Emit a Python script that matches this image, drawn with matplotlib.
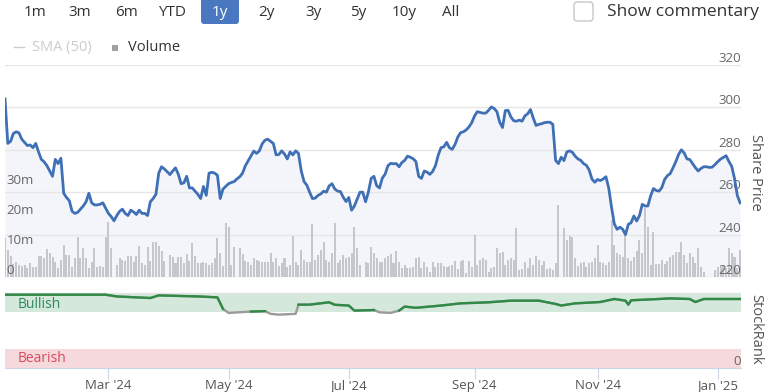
import numpy as np
import pandas as pd
import matplotlib.pyplot as plt
from matplotlib.patches import FancyBboxPatch, Rectangle

plt.rcParams['font.family'] = ['Open Sans', 'DejaVu Sans']

# closing price, one value per business day from 10 Jan 2024
price = [
    304, 283, 284, 287.7, 288.5, 288, 285, 283.5, 282, 282.3,
    281, 283, 279, 275.5, 274.3, 272.5, 270, 267.5, 275.5, 273.5,
    276, 259.5, 257.5, 256, 251, 250, 250.5, 252, 253.5, 255.5,
    259.5, 255, 254, 254, 254.3, 255, 252.5, 250, 248.5, 246.5,
    249, 251, 252, 250, 249, 251.5, 250.7, 249.5, 251.5, 250,
    250, 249, 255.5, 257, 259, 269, 272, 271, 269.7, 268.3,
    270, 271.5, 268.5, 264, 264.4, 267.5, 262, 262, 260.5, 259,
    257, 262.7, 258.5, 269, 269.4, 269, 268, 257, 261.5, 262.8,
    264, 264.6, 265, 266.3, 267.3, 269, 272.5, 274.8, 277, 279.4,
    278.3, 279.5, 282.8, 284.5, 285, 284, 283, 277.6, 277.8, 279.5,
    278, 275.7, 279, 277.6, 279.5, 278.3, 270, 265, 263.3, 260,
    257, 257.2, 258.5, 259.2, 260.5, 260, 263, 264, 261.5, 260.5,
    260.3, 257.7, 255.6, 257.5, 251.5, 253.5, 256.8, 260, 260, 255.5,
    260, 266.5, 267.5, 263, 262, 266.7, 268.5, 272.5, 273.6, 273.4,
    273.5, 272, 274, 275, 277, 276.5, 275.8, 274.5, 267.5, 266.5,
    270, 269.5, 268.4, 269.8, 272.5, 277.5, 281, 281.4, 283.5, 281,
    280.2, 282.5, 286, 288.1, 288.5, 289.4, 290.8, 292.8, 296, 298,
    297.6, 297.3, 297.3, 298.6, 300.2, 299.5, 298, 293, 290.5, 298.5,
    298.6, 295.5, 293.7, 293.5, 294, 293.5, 296, 297, 299, 295,
    291.5, 292, 292.3, 292.8, 293, 293, 292, 275, 273.5, 276.5,
    274.9, 279, 279.5, 278.8, 277, 275.7, 275, 273.5, 272.7, 270.5,
    266.2, 264.7, 266, 265.5, 266.2, 267.3, 262, 253, 245, 242.5,
    243.5, 242.5, 240, 244.8, 245.6, 248.8, 246.4, 249, 254.3, 253.5,
    253.5, 258.3, 261.7, 260.8, 260.5, 262.2, 266, 267.8, 268.8, 271.5,
    274.4, 277.8, 280, 278.5, 275.7, 275.4, 273.5, 271.6, 270, 271.2,
    272, 272, 271.7, 271.8, 273, 274.4, 275.6, 276.4, 277.2, 274.5,
    272.2, 266.5, 258.5, 255,
]

# volume in millions, same days
volume_m = [
    13, 9, 7, 4.5, 5, 4, 3.8, 4, 2.9, 4.8,
    3.4, 3.4, 7, 7, 6.2, 9.5, 7.9, 6.8, 5, 2.9,
    5.7, 10.7, 7.3, 7.3, 3.4, 6.2, 13.2, 6.2, 9.6, 6.2,
    2.9, 5.1, 9.6, 3.4, 3.6, 3.4, 13.2, 18.2, 9.6, 0,
    4, 6.2, 5.8, 5.5, 7, 7, 5.1, 7.1, 10.3, 4.8,
    4, 9.9, 5.4, 11.6, 11.6, 10.3, 8.7, 5.3, 0, 7.3,
    6.6, 4.6, 6.6, 6.6, 4.8, 7.6, 5.3, 11.2, 7, 4.6,
    4.8, 4.9, 4.6, 4, 4.6, 6.2, 12.9, 7.9, 3.7, 17.9,
    16.8, 4, 10.1, 0, 9.6, 7.7, 5.4, 5.1, 4, 6.2,
    5.7, 5.4, 5.1, 5.1, 5.1, 7.9, 5.1, 6.2, 3.7, 4.6,
    6.2, 3.4, 4, 13.8, 5.1, 4, 9, 5.7, 5.1, 5.1,
    17.6, 5.7, 7.3, 9, 11.8, 5.7, 4.9, 8.1, 17.9, 4.8,
    5.7, 7.3, 6.2, 6.8, 8.1, 16.6, 9.6, 4, 0, 5.1,
    4.8, 9.9, 7.9, 6.2, 5, 5.1, 6.2, 7, 7.6, 4.6,
    8.7, 5.1, 3.1, 4, 2.9, 3.1, 3.4, 6.2, 6.8, 2.9,
    5.1, 3.4, 1.8, 4.9, 3.4, 4.6, 4.6, 3.7, 3.4, 3.7,
    4, 5.3, 2.6, 5.3, 5.7, 1.4, 5.4, 3.4, 14, 4,
    5.7, 6.2, 5.7, 1.8, 2.9, 3.4, 9.6, 7.9, 8.4, 4,
    5.7, 6.2, 5.7, 16.2, 2.3, 2.6, 4.9, 2.9, 6.2, 4,
    7, 5.7, 4, 5.3, 2.6, 2.9, 2.3, 4.6, 24, 0,
    16.2, 12.3, 13.7, 13.4, 6.2, 3.8, 4.8, 4.9, 3.4, 4.6,
    4.9, 6.2, 10.7, 5.1, 4.6, 4, 5.1, 19, 10.7, 7.9,
    7.3, 6.8, 14.6, 6.2, 5.4, 6.8, 8.7, 12.3, 7.9, 22.9,
    16.6, 4, 15.1, 4.3, 4.3, 5.7, 4.3, 5.3, 6.8, 7.3,
    8.2, 8.2, 11.8, 7.3, 4.6, 7.9, 6.8, 4.6, 9.6, 3.4,
    1.8, 0, 0, 0, 2.3, 3.2, 3.4, 3.7, 2.9, 9.6,
    7.9, 6.8, 3, 9,
]

rank_dates = [
    "2024-01-10", "2024-02-29", "2024-03-06", "2024-03-22", "2024-03-27",
    "2024-04-17", "2024-04-25", "2024-04-29", "2024-05-01", "2024-05-13",
    "2024-05-20", "2024-05-22", "2024-05-27", "2024-06-04", "2024-06-05",
    "2024-06-11", "2024-06-20", "2024-06-24", "2024-07-01", "2024-07-03",
    "2024-07-12", "2024-07-16", "2024-07-22", "2024-07-25", "2024-07-29",
    "2024-08-02", "2024-08-15", "2024-08-26", "2024-09-09", "2024-09-19",
    "2024-10-03", "2024-10-11", "2024-10-15", "2024-10-22", "2024-11-04",
    "2024-11-11", "2024-11-15", "2024-11-18", "2024-11-19", "2024-12-03",
    "2024-12-09", "2024-12-18", "2024-12-20", "2024-12-25", "2025-01-13",
]
rank = [
    97.4, 97.4, 95.1, 93, 96.5,
    95, 93.8, 78.5, 73.2, 75,
    75.5, 72, 70.9, 72, 84.2,
    84.2, 87.3, 84, 83, 76.3,
    77, 74, 73.2, 76.3, 81.6,
    80, 83, 85.9, 87.3, 89.5,
    89.5, 85.1, 83, 85.9, 87.7,
    91.7, 89.5, 84.2, 90, 91.7,
    92.5, 91.7, 87.7, 91.7, 91.7,
]

month_ticks = ["2024-03-01", "2024-05-01", "2024-07-01", "2024-09-01", "2024-11-01", "2025-01-01"]
month_labels = ["Mar '24", "May '24", "Jul '24", "Sep '24", "Nov '24", "Jan '25"]
price_ticks = [220, 240, 260, 280, 300, 320]
volume_ticks = [0, 10, 20, 30]
volume_labels = ["0", "10m", "20m", "30m"]
ranges = ["1m", "3m", "6m", "YTD", "1y", "2y", "3y", "5y", "10y", "All"]
range_x = [35, 80, 127, 172, 220, 266, 313, 358, 404, 451]

dates = pd.bdate_range("2024-01-10", periods=len(price))
t = np.arange(len(price))
tick_pos = np.searchsorted(dates, pd.to_datetime(month_ticks))
rank_pos = dates.get_indexer(pd.to_datetime(rank_dates))
rank = np.array(rank)

W, H = 770, 392
fig = plt.figure(figsize=(W / 100, H / 100), dpi=100)


def box(x0, y0, x1, y1):
    return [x0 / W, 1 - y1 / H, (x1 - x0) / W, (y1 - y0) / H]


xmax = (741 - 5) / 2.795
main = box(5, 65, 741, 277)

# background: fill under price + grid
axf = fig.add_axes(main)
axf.fill_between(t, price, 220, color="#f3f5fb", lw=0)
axf.set_xlim(0, xmax)
axf.set_ylim(220, 320)
axf.set_yticks(price_ticks)
axf.grid(axis="y", color="#e6e6e6", lw=1)
axf.set_axisbelow(False)
axf.tick_params(left=False, labelleft=False, bottom=False, labelbottom=False)

# volume bars
axv = fig.add_axes(main, sharex=axf)
axv.patch.set_visible(False)
axv.bar(t, volume_m, width=0.72, color="#c6c7cd", lw=0)
axv.set_ylim(0, 212 / 3)
axv.set_yticks(volume_ticks, volume_labels)
axv.tick_params(axis="y", length=0, pad=-1, labelsize=9.5, labelcolor="#666666")
axv.tick_params(bottom=False, labelbottom=False)
for lab in axv.get_yticklabels():
    lab.set_ha("left")
    lab.set_va("bottom")

# price line
axp = fig.add_axes(main, sharex=axf)
axp.patch.set_visible(False)
axp.plot(t, price, color="#3f6fb5", lw=2.0, solid_joinstyle="round")
axp.set_ylim(220, 320)
axp.yaxis.tick_right()
axp.set_yticks(price_ticks)
axp.tick_params(axis="y", length=0, pad=0, labelsize=9.5, labelcolor="#666666")
axp.tick_params(bottom=False, labelbottom=False)
for lab in axp.get_yticklabels():
    lab.set_ha("right")
    lab.set_va("bottom")

for a in (axf, axv, axp):
    for s in a.spines.values():
        s.set_visible(False)

# StockRank panel
axr = fig.add_axes(box(5, 292, 741, 368), sharex=axf)
axr.axhspan(75, 100, color="#d5e8dc", lw=0)
axr.axhspan(0, 25, color="#f6d9dc", lw=0)
axr.axhline(100, color="#e3e3e3", lw=1)
axr.plot(rank_pos, rank, color="#9a9a9a", lw=1.7)
axr.plot(rank_pos, np.ma.masked_less(rank, 75), color="#2e8a44", lw=1.7)
axr.set_ylim(0, 101)
axr.set_xlim(0, xmax)
axr.text(13 / 736, 84, "Bullish", transform=axr.get_yaxis_transform(),
         color="#2e8a5a", fontsize=10, va="center")
axr.text(13 / 736, 12, "Bearish", transform=axr.get_yaxis_transform(),
         color="#d9485f", fontsize=10, va="center")
axr.yaxis.tick_right()
axr.set_yticks([0], ["0"])
axr.tick_params(axis="y", length=0, pad=0, labelsize=9.5, labelcolor="#666666")
for lab in axr.get_yticklabels():
    lab.set_ha("right")
    lab.set_va("bottom")
axr.set_xticks(tick_pos, month_labels)
axr.tick_params(axis="x", length=8, color="#ccd6eb", labelsize=9.5, labelcolor="#555555", pad=0)
for s in ("top", "left", "right"):
    axr.spines[s].set_visible(False)
axr.spines["bottom"].set_color("#ccd6eb")

# axis titles
fig.text(756 / W, 1 - 172 / H, "Share Price", rotation=270, ha="center", va="center",
         fontsize=10.5, color="#555555")
fig.text(756 / W, 1 - 329 / H, "StockRank", rotation=270, ha="center", va="center",
         fontsize=10.5, color="#555555")

# range buttons, legend and checkbox
ui = fig.add_axes([0, 0, 1, 1])
ui.set_xlim(0, W)
ui.set_ylim(H, 0)
ui.axis("off")
ui.patch.set_visible(False)
ui.add_patch(FancyBboxPatch((201, -4), 38, 28, boxstyle="round,pad=0,rounding_size=3",
                            fc="#4a78c0", ec="none"))
for lbl, x in zip(ranges, range_x):
    ui.text(x, 12, lbl, ha="center", va="center", fontsize=11,
            color="white" if lbl == "1y" else "#333333")
ui.add_patch(FancyBboxPatch((574, 2), 19, 19, boxstyle="round,pad=0,rounding_size=3",
                            fc="white", ec="#c8c8c8", lw=1))
ui.text(607, 12, "Show commentary", ha="left", va="center", fontsize=12.5, color="#333333")
ui.plot([14, 24], [47, 47], color="#cccccc", lw=1)
ui.text(32, 47, "SMA (50)", ha="left", va="center", fontsize=10.5, color="#cccccc")
ui.add_patch(Rectangle((112, 45), 6, 6, fc="#a0a0a6", ec="none"))
ui.text(128, 47, "Volume", ha="left", va="center", fontsize=10.5, color="#333333")

fig.savefig("out.png", dpi=100)
